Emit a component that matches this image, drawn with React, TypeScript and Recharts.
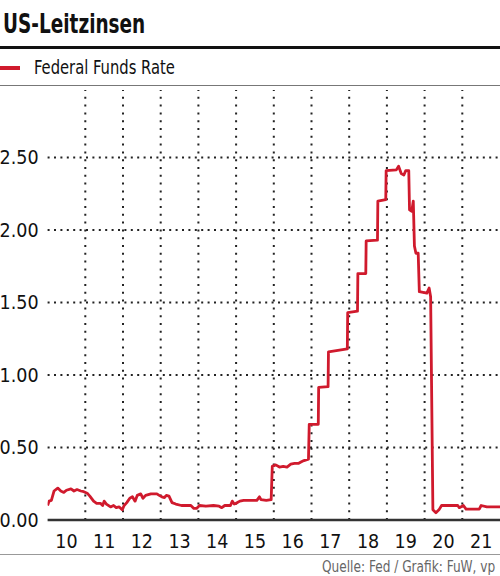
import React from 'react';
import { LineChart, Line, XAxis, YAxis, ReferenceLine } from 'recharts';

const TITLE = 'US-Leitzinsen';
const SERIES_NAME = 'Federal Funds Rate';
const SOURCE = 'Quelle: Fed / Grafik: FuW, vp';

// decimal year of each observation
const times = [
  2010.00, 2010.04, 2010.10, 2010.17, 2010.27, 2010.35, 2010.43, 2010.50, 2010.62, 2010.70,
  2010.78, 2010.88, 2010.96, 2011.05, 2011.12, 2011.22, 2011.30, 2011.40, 2011.46, 2011.50,
  2011.56, 2011.67, 2011.75, 2011.82, 2011.90, 2011.98, 2012.03, 2012.10, 2012.18, 2012.25,
  2012.32, 2012.38, 2012.47, 2012.53, 2012.60, 2012.74, 2012.90, 2012.96, 2013.03, 2013.10,
  2013.15, 2013.22, 2013.30, 2013.40, 2013.55, 2013.70, 2013.80, 2013.88, 2013.95, 2014.03,
  2014.20, 2014.40, 2014.55, 2014.62, 2014.70, 2014.85, 2014.90, 2014.95, 2015.00, 2015.10,
  2015.20, 2015.40, 2015.55, 2015.62, 2015.66, 2015.80, 2015.93, 2015.96, 2016.05, 2016.15,
  2016.25, 2016.35, 2016.45, 2016.55, 2016.65, 2016.72, 2016.80, 2016.92, 2016.94, 2017.18,
  2017.19, 2017.44, 2017.45, 2017.95, 2017.96, 2018.22, 2018.23, 2018.44, 2018.45, 2018.75,
  2018.76, 2018.97, 2018.98, 2019.25, 2019.31, 2019.38, 2019.45, 2019.50, 2019.58, 2019.60,
  2019.66, 2019.70, 2019.73, 2019.77, 2019.83, 2019.86, 2020.06, 2020.12, 2020.16, 2020.22,
  2020.30, 2020.38, 2020.45, 2020.88, 2020.92, 2021.03, 2021.10, 2021.45, 2021.50, 2021.65,
  2022.00,
];

// effective federal funds rate, percent
const rates = [
  0.10, 0.13, 0.135, 0.20, 0.22, 0.20, 0.19, 0.205, 0.215, 0.20,
  0.21, 0.20, 0.195, 0.185, 0.165, 0.13, 0.115, 0.115, 0.10, 0.13,
  0.11, 0.09, 0.10, 0.085, 0.09, 0.07, 0.10, 0.12, 0.15, 0.16,
  0.13, 0.17, 0.18, 0.15, 0.17, 0.18, 0.18, 0.17, 0.16, 0.155,
  0.17, 0.165, 0.12, 0.11, 0.10, 0.10, 0.10, 0.08, 0.08, 0.10,
  0.095, 0.10, 0.095, 0.085, 0.10, 0.10, 0.13, 0.11, 0.115, 0.13,
  0.135, 0.135, 0.135, 0.16, 0.14, 0.135, 0.14, 0.37, 0.38, 0.365,
  0.37, 0.365, 0.385, 0.39, 0.39, 0.40, 0.41, 0.42, 0.66, 0.66,
  0.915, 0.92, 1.16, 1.18, 1.43, 1.44, 1.70, 1.70, 1.925, 1.93,
  2.20, 2.21, 2.41, 2.415, 2.44, 2.39, 2.38, 2.41, 2.41, 2.14,
  2.13, 2.20, 1.89, 1.84, 1.84, 1.575, 1.565, 1.60, 1.54, 0.07,
  0.05, 0.07, 0.10, 0.10, 0.085, 0.10, 0.075, 0.075, 0.10, 0.09,
  0.09,
];

const yTicks = [0, 0.5, 1, 1.5, 2, 2.5];
const yGridValues = [0.5, 1, 1.5, 2, 2.5];
const yMax = 2.966;
const labelYears = [2010, 2011, 2012, 2013, 2014, 2015, 2016, 2017, 2018, 2019, 2020, 2021];
const gridYears = [2011, 2012, 2013, 2014, 2015, 2016, 2017, 2018, 2019, 2020, 2021];

const data = times.map((t, i) => ({ t, rate: rates[i] }));
const xTicks = labelYears.map((y) => y + 0.5);

const RED = '#d01a2d';
const FONT = "'DejaVu Sans Condensed', 'Roboto', sans-serif";

export default function App() {
  return (
    <div
      style={{
        position: 'absolute',
        left: 0,
        top: 0,
        width: 500,
        height: 576,
        background: '#fff',
        overflow: 'hidden',
        fontFamily: FONT,
      }}
    >
      <div
        style={{
          position: 'absolute',
          left: 3,
          top: 9,
          fontSize: 27,
          fontWeight: 'bold',
          color: '#111',
          lineHeight: '30px',
          whiteSpace: 'nowrap',
          transform: 'scaleX(0.76)',
          transformOrigin: 'left top',
        }}
      >
        {TITLE}
      </div>
      <div style={{ position: 'absolute', left: 0, top: 45.5, width: 500, height: 3, background: '#111' }} />
      <div style={{ position: 'absolute', left: 0, top: 65.5, width: 20, height: 4.5, background: RED }} />
      <div
        style={{
          position: 'absolute',
          left: 34,
          top: 55,
          fontSize: 20,
          color: '#111',
          lineHeight: '24px',
          whiteSpace: 'nowrap',
          transform: 'scaleX(0.82)',
          transformOrigin: 'left top',
        }}
      >
        {SERIES_NAME}
      </div>
      <div style={{ position: 'absolute', left: 0, top: 85, width: 500, height: 1, background: '#777' }} />

      <div style={{ position: 'absolute', left: 0, top: 0 }}>
        <LineChart width={500} height={576} data={data} margin={{ top: 90, right: 0, bottom: 0, left: 0 }}>
          {yGridValues.map((v) => (
            <ReferenceLine key={'h' + v} y={v} stroke="#222" strokeWidth={2} strokeDasharray="2 4.4" />
          ))}
          {gridYears.map((y) => (
            <ReferenceLine key={y} x={y} stroke="#222" strokeWidth={2} strokeDasharray="2 5.8" />
          ))}
          <XAxis
            dataKey="t"
            type="number"
            domain={[2010, 2022]}
            ticks={xTicks}
            tickFormatter={(v: number) => String(Math.floor(v)).slice(2)}
            tickLine={false}
            tickSize={0}
            tickMargin={14}
            height={56}
            axisLine={{ stroke: '#333', strokeWidth: 2.5 }}
            tick={{ fill: '#111', fontSize: 19.5, fontFamily: FONT }}
            interval={0}
            allowDataOverflow
          />
          <YAxis
            type="number"
            domain={[0, yMax]}
            ticks={yTicks}
            tickFormatter={(v: number) => v.toFixed(2)}
            axisLine={false}
            tickLine={false}
            tickSize={0}
            tickMargin={9}
            width={47.6}
            tick={{ fill: '#111', fontSize: 19.5, fontFamily: FONT }}
            interval={0}
            allowDataOverflow
          />
          <Line
            type="linear"
            dataKey="rate"
            stroke={RED}
            strokeWidth={2.8}
            dot={false}
            activeDot={false}
            isAnimationActive={false}
            strokeLinejoin="round"
          />
        </LineChart>
      </div>

      <div style={{ position: 'absolute', left: 0, top: 553.5, width: 500, height: 1, background: '#999' }} />
      <div
        style={{
          position: 'absolute',
          left: 322,
          top: 558,
          fontSize: 15,
          color: '#666',
          lineHeight: '18px',
          whiteSpace: 'nowrap',
          transform: 'scaleX(0.9)',
          transformOrigin: 'left top',
        }}
      >
        {SOURCE}
      </div>
    </div>
  );
}
